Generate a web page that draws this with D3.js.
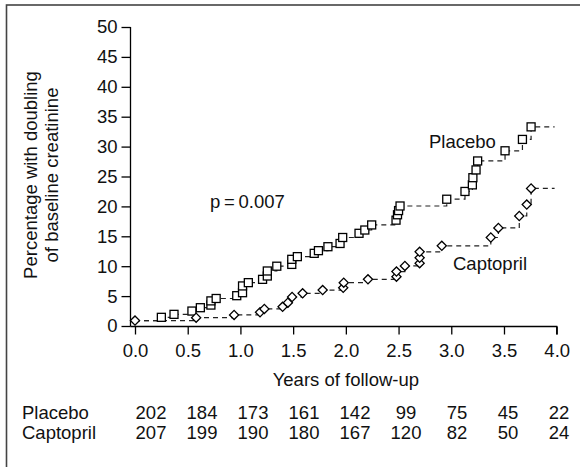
<!DOCTYPE html>
<html><head><meta charset="utf-8">
<script src="https://cdn.jsdelivr.net/npm/d3@7/dist/d3.min.js"></script>
<style>body{margin:0;background:#fff}svg{display:block}text{font-family:"Liberation Sans",Arial,Helvetica,sans-serif;fill:#111}</style>
</head><body>
<script>
// Data
const placeboT = [0.25,0.37,0.54,0.62,0.72,0.72,0.77,0.965,1.02,1.02,1.075,1.21,1.255,1.255,1.345,1.487,1.487,1.54,1.70,1.74,1.83,1.945,1.97,2.125,2.18,2.245,2.476,2.49,2.50,2.514,2.957,3.13,3.20,3.205,3.235,3.25,3.51,3.675,3.757];
const placeboV = [1.45,1.95,2.5,3.06,3.5,4.2,4.6,5.07,5.57,6.7,7.25,7.8,8.36,9.2,10.0,10.3,11.15,11.6,12.15,12.6,13.26,13.8,14.8,15.5,16.05,16.9,17.7,18.6,19.3,20.07,21.2,22.5,23.6,24.8,26.1,27.6,29.3,31.2,33.3];
const captoT = [0,0.58,0.94,1.186,1.227,1.40,1.45,1.49,1.59,1.78,1.975,1.98,2.21,2.48,2.48,2.56,2.70,2.70,2.70,2.91,3.375,3.447,3.645,3.716,3.757];
const captoV = [0.9,1.4,1.85,2.3,2.85,3.2,3.9,4.85,5.47,6.0,6.4,7.25,7.8,8.25,9.1,10.05,10.5,11.4,12.4,13.4,14.8,16.4,18.4,20.3,23.0];
const endT = 3.98;
const xTicks = [0,0.5,1,1.5,2,2.5,3,3.5,4];
const yTicks = [0,5,10,15,20,25,30,35,40,45,50];
const tableGroups = ["Placebo","Captopril"];
const placeboAtRisk = [202,184,173,161,142,99,75,45,22];
const captoAtRisk = [207,199,190,180,167,120,82,50,24];

const W=580,H=467, FS=18.5;
const svg=d3.select("body").append("svg").attr("width",W).attr("height",H);
svg.append("rect").attr("x",6.5).attr("y",5).attr("width",W+20).attr("height",H+20)
  .attr("fill","none").attr("stroke","#444").attr("stroke-width",1.6);

const x=d3.scaleLinear().domain([0,4]).range([135,556.7]);
const y=d3.scaleLinear().domain([0,50]).range([326,27]);

// Y axis
const yAx=svg.append("g").attr("transform","translate(130.5,0)")
  .call(d3.axisLeft(y).tickValues(yTicks).tickSize(9).tickPadding(4).tickFormat(d3.format("d")));
// X axis
const xAx=svg.append("g").attr("transform","translate(0,326.5)")
  .call(d3.axisBottom(x).tickValues(xTicks).tickSize(8).tickPadding(9).tickFormat(d3.format(".1f")));
[yAx,xAx].forEach(g=>{
  g.select(".domain").attr("stroke","#000").attr("stroke-width",1.3);
  g.selectAll(".tick line").attr("stroke","#000").attr("stroke-width",1.3);
  g.selectAll(".tick text").attr("font-size",FS).attr("fill","#111").attr("font-family","Liberation Sans, Arial, sans-serif");
});
xAx.select(".domain").attr("d",`M130.5,0H${x(4)}V8`).attr("stroke-width",1.3);
yAx.select(".domain").attr("d",`M0,${y(50)}V${326.5}`);

// Axis titles
svg.append("text").attr("x",x(2)).attr("y",386).attr("text-anchor","middle").attr("font-size",FS).text("Years of follow-up");
const yl=svg.append("text").attr("transform","translate(0,175) rotate(-90)").attr("text-anchor","middle").attr("font-size",FS);
yl.append("tspan").attr("x",0).attr("y",37).text("Percentage with doubling");
yl.append("tspan").attr("x",0).attr("y",58).text("of baseline creatinine");

// Series
function series(T,V,start){
  const pts=[start].concat(T.map((t,i)=>[t,V[i]]));
  const last=pts[pts.length-1];
  pts.push([endT,last[1]]);
  return pts;
}
const line=d3.line().x(d=>x(d[0])).y(d=>y(d[1])).curve(d3.curveStepAfter);
const pPts=series(placeboT,placeboV,[0,0.9]);
const cPts=series(captoT.slice(1),captoV.slice(1),[captoT[0],captoV[0]]);
[pPts,cPts].forEach(p=>{
  svg.append("path").attr("d",line(p)).attr("fill","none").attr("stroke","#222")
   .attr("stroke-width",1.2).attr("stroke-dasharray","5,4");
});
svg.append("g").selectAll("rect").data(placeboT.map((t,i)=>[t,placeboV[i]])).join("rect")
  .attr("x",d=>x(d[0])-4).attr("y",d=>y(d[1])-4).attr("width",8).attr("height",8)
  .attr("fill","#fff").attr("stroke","#000").attr("stroke-width",1.3);
const dsym=d3.symbol().type(d3.symbolSquare).size(42);
svg.append("g").selectAll("path").data(captoT.map((t,i)=>[t,captoV[i]])).join("path")
  .attr("d",dsym).attr("transform",d=>`translate(${x(d[0])},${y(d[1])}) rotate(45)`)
  .attr("fill","#fff").attr("stroke","#000").attr("stroke-width",1.3);

// Labels
svg.append("text").attr("x",429).attr("y",148).attr("font-size",FS).text("Placebo");
svg.append("text").attr("x",453).attr("y",270).attr("font-size",FS).text("Captopril");
svg.append("text").attr("x",210).attr("y",208).attr("font-size",FS).text("p\u2009=\u20090.007");

// At-risk table
const tx=d3.scaleLinear().domain([0,8]).range([151,559]);
const rows=[placeboAtRisk,captoAtRisk];
const rowY=[419,439];
tableGroups.forEach((g,r)=>{
  svg.append("text").attr("x",22).attr("y",rowY[r]).attr("font-size",FS).text(g);
  svg.append("g").selectAll("text").data(rows[r]).join("text")
    .attr("x",(d,i)=>tx(i)).attr("y",rowY[r]).attr("text-anchor","middle").attr("font-size",FS).text(d=>d);
});
</script>
</body></html>
